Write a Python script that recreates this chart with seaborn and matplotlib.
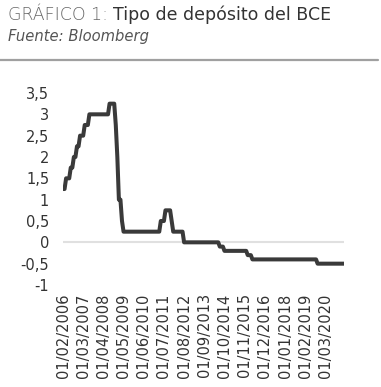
import numpy as np
import pandas as pd
import matplotlib
matplotlib.use("Agg")
import matplotlib.pyplot as plt
import seaborn as sns
from matplotlib.lines import Line2D

# ECB deposit facility rate, monthly (1st of month), Feb 2006 - Mar 2021
dates = pd.date_range("2006-02-01", "2021-03-01", freq="MS")
rate_changes = [
    ("2006-02-01", 1.25), ("2006-04-01", 1.50), ("2006-07-01", 1.75),
    ("2006-09-01", 2.00), ("2006-11-01", 2.25), ("2007-01-01", 2.50),
    ("2007-04-01", 2.75), ("2007-07-01", 3.00), ("2008-08-01", 3.25),
    ("2008-12-01", 2.75), ("2009-01-01", 2.00), ("2009-02-01", 1.00),
    ("2009-04-01", 0.50), ("2009-05-01", 0.25), ("2011-05-01", 0.50),
    ("2011-08-01", 0.75), ("2011-12-01", 0.50), ("2012-01-01", 0.25),
    ("2012-08-01", 0.00), ("2014-07-01", -0.10), ("2014-10-01", -0.20),
    ("2016-01-01", -0.30), ("2016-04-01", -0.40), ("2019-10-01", -0.50),
]
change_dates = [pd.Timestamp(d) for d, _ in rate_changes]
change_values = [v for _, v in rate_changes]

values = []
for d in dates:
    cur = None
    for cd, cv in zip(change_dates, change_values):
        if cd <= d:
            cur = cv
    values.append(cur)

df = pd.DataFrame({"idx": np.arange(len(dates)), "rate": values})
tick_idx = list(range(0, len(dates), 13))
tick_labels = [dates[i].strftime("%d/%m/%Y") for i in tick_idx]
y_ticks = [-1, -0.5, 0, 0.5, 1, 1.5, 2, 2.5, 3, 3.5]
y_labels = [("%g" % v).replace(".", ",") for v in y_ticks]

sns.set_style("white")
plt.rcParams["font.family"] = ["DejaVu Sans"]

fig = plt.figure(figsize=(3.81, 3.87), dpi=100)
ax = fig.add_axes([63 / 381, 1 - 285 / 387, (344 - 63) / 381, (285 - 93) / 387])

ax.axhline(0, color="#e0e0e0", lw=1.5, zorder=1)
sns.lineplot(data=df, x="idx", y="rate", ax=ax, color="#3a3a3a", lw=2.9, zorder=3)

ax.set_xlim(0, len(dates) - 1)
ax.set_ylim(-1, 3.5)
ax.set_xticks(tick_idx)
ax.set_xticklabels(tick_labels, rotation=90, fontsize=10.5, color="#333333")
ax.set_yticks(y_ticks)
ax.set_yticklabels(y_labels, fontsize=10.5, color="#333333")
ax.tick_params(axis="both", length=0)
ax.tick_params(axis="x", pad=6)
ax.tick_params(axis="y", pad=10)
ax.set_xlabel("")
ax.set_ylabel("")
for s in ax.spines.values():
    s.set_visible(False)
ax.grid(False)

# header
t1 = fig.text(8 / 381, 1 - 15 / 387, "GRÁFICO 1: ", fontsize=12.5, color="#666666",
              fontweight="light", va="center", ha="left")
fig.canvas.draw()
bb = t1.get_window_extent(renderer=fig.canvas.get_renderer())
fig.text(bb.x1 / fig.bbox.width, 1 - 15 / 387, "Tipo de depósito del BCE", fontsize=12.5,
         color="#333333", va="center", ha="left")
fig.text(8 / 381, 1 - 36 / 387, "Fuente: Bloomberg", fontsize=10.6, color="#555555",
         style="italic", va="center", ha="left")
fig.add_artist(Line2D([0, 378 / 381], [1 - 60 / 387, 1 - 60 / 387], color="#a0a0a0",
                      lw=1.6, transform=fig.transFigure))

fig.savefig("out.png", dpi=100)
